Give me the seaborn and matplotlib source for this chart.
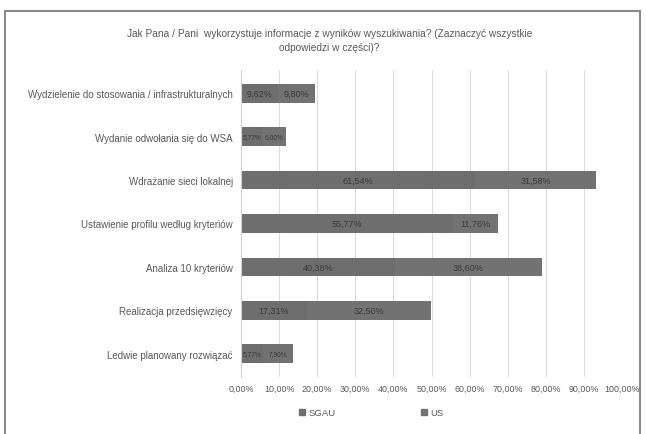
import matplotlib
matplotlib.use("Agg")
import matplotlib.pyplot as plt
import seaborn as sns
import pandas as pd
from matplotlib.patches import Rectangle

categories = [
    "Wydzielenie do stosowania / infrastrukturalnych",
    "Wydanie odwołania się do WSA",
    "Wdrażanie sieci lokalnej",
    "Ustawienie profilu według kryteriów",
    "Analiza 10 kryteriów",
    "Realizacja przedsięwzięcy",
    "Ledwie planowany rozwiązać",
]
sgau = [9.62, 5.77, 61.54, 55.77, 40.38, 17.31, 5.77]
us = [9.80, 6.00, 31.58, 11.76, 38.60, 32.50, 7.90]
series_names = ["SGAU", "US"]
xticks = [0, 10, 20, 30, 40, 50, 60, 70, 80, 90, 100]
title = ("Jak Pana / Pani  wykorzystuje informacje z wyników wyszukiwania? (Zaznaczyć wszystkie\n"
         "odpowiedzi w części)?")

sns.set_theme(style="white")
plt.rcParams["font.family"] = ["Liberation Sans", "DejaVu Sans"]

fig = plt.figure(figsize=(6.46, 4.35), dpi=100)
ax = fig.add_axes([241/646, 1-378/435, (622-241)/646, (378-71)/435])

df = pd.DataFrame({"cat": categories, "SGAU": sgau, "US": us})
c_sgau = "#6e6e6e"
c_us = "#727272"
sns.barplot(data=df, y="cat", x="SGAU", color=c_sgau, orient="h", width=0.43,
            saturation=1, ax=ax, linewidth=0, edgecolor="none")
ax.barh(range(len(categories)), us, left=sgau, height=0.43, color=c_us,
        linewidth=0, edgecolor="none")

def fmt(v):
    return f"{v:.2f}%".replace(".", ",")

for cont, vals in zip(ax.containers, [sgau, us]):
    texts = ax.bar_label(cont, labels=[fmt(v) for v in vals], label_type="center",
                         fontsize=6.5, color="#3a3a3a")
    for t, v in zip(texts, vals):
        if v < 8:
            t.set_fontsize(4.8)

ax.set_xlim(0, 100)
ax.set_xticks(xticks)
ax.set_xticklabels([f"{t},00%" for t in xticks], fontsize=6.4, color="#595959")
ax.tick_params(axis="x", length=0, pad=5)
ax.tick_params(axis="y", length=0, pad=6, labelsize=7.0, labelcolor="#595959")
ax.set_xlabel("")
ax.set_ylabel("")
ax.grid(axis="x", color="#dcdcdc", linewidth=0.8)
ax.set_axisbelow(True)
for s in ["top", "right", "bottom"]:
    ax.spines[s].set_visible(False)
ax.spines["left"].set_color("#d0d0d0")
ax.spines["left"].set_linewidth(0.8)
if ax.get_legend() is not None:
    ax.get_legend().remove()

fig.text(0.51, 1-41/435, title, ha="center", va="center", fontsize=7.3,
         color="#595959", linespacing=1.6)

handles = [Rectangle((0, 0), 1, 1, color=c_sgau), Rectangle((0, 0), 1, 1, color=c_us)]
fig.legend(handles, series_names, loc="center", bbox_to_anchor=(0.575, 1-414/435),
           ncol=2, frameon=False, fontsize=6.8, labelcolor="#595959",
           handlelength=0.6, handleheight=0.6, handletextpad=0.4, columnspacing=9)

fig.patches.append(Rectangle((5/646, -0.05), (640-5)/646, 1.05-12/435,
                             transform=fig.transFigure, fill=False,
                             edgecolor="#8a8a8a", linewidth=1.5))

fig.savefig("out.png", dpi=100)
